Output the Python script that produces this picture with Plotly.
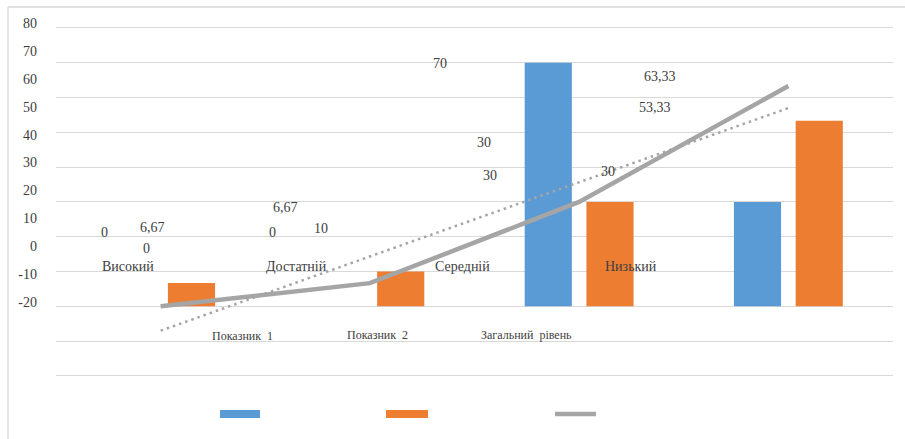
import numpy as np
import plotly.graph_objects as go

# ---- data -------------------------------------------------------------
levels = ["Високий", "Достатній", "Середній", "Низький"]
indicators = ["Показник\u00a0\u00a01", "Показник\u00a0\u00a02", "Загальний\u00a0\u00a0рівень"]
series_blue = [0, 0, 70, 30]
series_orange = [6.67, 10, 30, 53.33]
series_grey = [0, 6.67, 30, 63.33]
y_tick_labels = [80, 70, 60, 50, 40, 30, 20, 10, 0, -10, -20]

# ---- page geometry (pixels) --------------------------------------------
W, H = 905, 439
M_L, M_R, M_T, M_B = 0, 12, 10, 61
PW = W - M_L - M_R
PH = H - M_T - M_B


def fx(x):
    """pixel x -> paper fraction"""
    return (x - M_L) / PW


def fy(y):
    """pixel y -> paper fraction"""
    return (H - M_B - y) / PH


BLUE = "#5b9bd5"
ORANGE = "#ed7d31"
GREY = "#a5a5a5"
GRID = "#d9d9d9"
TEXT = "#404040"
FONT = "Liberation Serif"

# label placement (pixel centres)
blue_label_pos = [(104, 232), (272, 232), (440, 63), (608, 172)]
orange_label_pos = [(152, 227), (321, 228), (490, 175), (655, 107)]
grey_label_pos = [(146, 249), (285, 207), (484, 142), (660, 76)]
level_label_pos = [(128, 266), (296, 266), (463, 266), (631, 266)]
indicator_label_pos = [(242, 336), (377, 335), (526, 335)]


def fmt(v):
    s = f"{v:.2f}".rstrip("0").rstrip(".")
    return s.replace(".", ",")


idx = np.arange(len(series_grey))
trend = np.polyval(np.polyfit(idx, series_grey, 1), idx)

fig = go.Figure()
fig.add_trace(go.Bar(x=levels, y=series_blue, marker=dict(color=BLUE, line=dict(width=0)),
                     showlegend=False))
fig.add_trace(go.Bar(x=levels, y=series_orange, marker=dict(color=ORANGE, line=dict(width=0)),
                     showlegend=False))
fig.add_trace(go.Scatter(x=levels, y=series_grey, mode="lines",
                         line=dict(color=GREY, width=4.5), showlegend=False))
fig.add_trace(go.Scatter(x=levels, y=trend, mode="lines",
                         line=dict(color=GREY, width=2.5, dash="2.5px,4px"), showlegend=False))
# carrier for the value axis labels
fig.add_trace(go.Scatter(x=[None], y=[None], yaxis="y2", showlegend=False, hoverinfo="skip"))

annotations = []


def add_text(text, pos, size):
    annotations.append(dict(
        text=text, x=fx(pos[0]), y=fy(pos[1]), xref="paper", yref="paper",
        xanchor="center", yanchor="middle", showarrow=False,
        font=dict(family=FONT, size=size, color=TEXT)))


for vals, poss in ((series_blue, blue_label_pos), (series_orange, orange_label_pos),
                   (series_grey, grey_label_pos)):
    for v, p in zip(vals, poss):
        add_text(fmt(v), p, 14)
for name, p in zip(levels, level_label_pos):
    add_text(name, p, 14)
for name, p in zip(indicators, indicator_label_pos):
    add_text(name, p, 12)

shapes = [
    # chart frame
    dict(type="line", xref="paper", yref="paper", x0=fx(8), x1=fx(W + 2), y0=fy(7), y1=fy(7),
         line=dict(color=GRID, width=1.3)),
    dict(type="line", xref="paper", yref="paper", x0=fx(8), x1=fx(8), y0=fy(7), y1=fy(H + 2),
         line=dict(color=GRID, width=1.3)),
    # legend keys
    dict(type="rect", xref="paper", yref="paper", x0=fx(220), x1=fx(260), y0=fy(410), y1=fy(418),
         fillcolor=BLUE, line=dict(width=0)),
    dict(type="rect", xref="paper", yref="paper", x0=fx(386), x1=fx(428), y0=fy(410), y1=fy(418),
         fillcolor=ORANGE, line=dict(width=0)),
    dict(type="line", xref="paper", yref="paper", x0=fx(555), x1=fx(596), y0=fy(414), y1=fy(414),
         line=dict(color=GREY, width=4.5)),
]

fig.update_layout(
    width=W, height=H,
    margin=dict(l=M_L, r=M_R, t=M_T, b=M_B, pad=0),
    paper_bgcolor="white", plot_bgcolor="rgba(0,0,0,0)",
    barmode="group", bargap=0.41, bargroupgap=0.236,
    xaxis=dict(domain=[fx(56), 1], range=[-0.5, 3.5], showticklabels=False, showgrid=False,
               zeroline=False, showline=False, ticks="", automargin=False),
    yaxis=dict(domain=[0, fy(25.9)], range=[-20.6, 80.6], dtick=10, tick0=0,
               showticklabels=False, showgrid=True, gridcolor=GRID, gridwidth=1.3,
               zeroline=False, showline=False, ticks="", automargin=False),
    yaxis2=dict(domain=[fy(303.1), fy(21.9)], range=[-20.5, 80.5], anchor="free",
                position=fx(37), tickvals=y_tick_labels, ticktext=[str(t) for t in y_tick_labels],
                showgrid=False, zeroline=False, showline=False, ticks="", automargin=False,
                tickfont=dict(family=FONT, size=14, color=TEXT)),
    annotations=annotations,
    shapes=shapes,
)

fig.write_html("out.html")
